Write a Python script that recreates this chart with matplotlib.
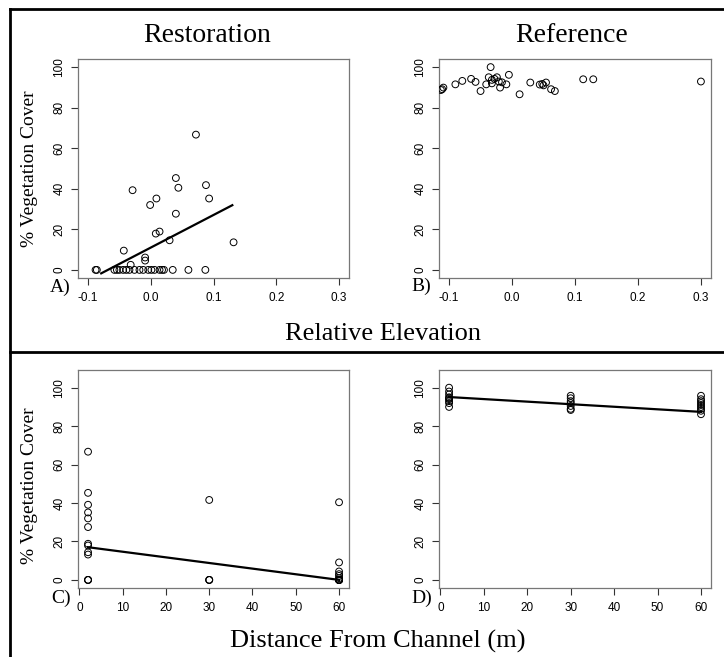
import matplotlib
matplotlib.use("Agg")
import matplotlib.pyplot as plt
import numpy as np
from matplotlib.lines import Line2D

# A) restoration: relative elevation vs % cover
rest_elev = [0.072, 0.040, 0.044, -0.029, 0.088, 0.093, 0.009, -0.001, 0.040,
             0.008, 0.014, 0.030, 0.132, -0.043, -0.009, -0.009, -0.032,
             -0.088, -0.086, -0.058, -0.054, -0.050, -0.044, -0.039, -0.034,
             -0.026, -0.018, -0.012, -0.004, 0.001, 0.006, 0.014, 0.018,
             0.021, 0.035, 0.060, 0.087]
rest_cover = [66.7, 45.3, 40.5, 39.3, 41.8, 35.2, 35.2, 32.0, 27.7,
              17.9, 18.9, 14.6, 13.6, 9.5, 6.1, 4.6, 2.5,
              0, 0, 0, 0, 0, 0, 0, 0,
              0, 0, 0, 0, 0, 0, 0, 0,
              0, 0, 0, 0]
fit_a = (11.0, 160.8, -0.079, 0.130)  # intercept, slope, x from, x to

# B) reference: relative elevation vs % cover
ref_elev = [-0.111, -0.109, -0.113, -0.090, -0.079, -0.065, -0.058, -0.050,
            -0.041, -0.037, -0.034, -0.032, -0.032, -0.028, -0.024, -0.021,
            -0.019, -0.016, -0.009, -0.005, 0.012, 0.029, 0.044, 0.048,
            0.050, 0.054, 0.062, 0.068, 0.113, 0.129, 0.300]
ref_cover = [89.1, 89.9, 88.7, 91.5, 93.2, 94.2, 92.7, 88.2,
             91.5, 95.0, 100.0, 93.7, 92.0, 94.2, 95.0, 92.9,
             89.9, 92.5, 91.5, 96.2, 86.6, 92.4, 91.4, 91.7,
             91.0, 92.4, 89.1, 88.2, 94.0, 94.0, 92.9]

# C) restoration: distance from channel vs % cover
rest_dist = [2, 2, 2, 2, 2, 2, 2, 2, 2, 2, 2, 2, 2,
             30, 30, 30, 30,
             60, 60, 60, 60, 60, 60, 60, 60, 60, 60, 60, 60, 60]
rest_dist_cover = [66.7, 45.3, 39.1, 35.1, 32.0, 27.5, 18.8, 17.9, 14.4, 13.2, 0, 0, 0,
                   41.6, 0, 0, 0,
                   40.4, 9.1, 4.4, 3.0, 2.1, 0.9, 0, 0, 0, 0, 0, 0, 0]
fit_c = (17.6, -0.293, 2, 60)

# D) reference: distance from channel vs % cover
ref_dist = [2, 2, 2, 2, 2, 2, 2, 2, 2,
            30, 30, 30, 30, 30, 30, 30,
            60, 60, 60, 60, 60, 60, 60, 60, 60]
ref_dist_cover = [100.0, 98.0, 96.5, 95.0, 94.5, 94.0, 93.0, 92.0, 90.0,
                  95.8, 94.5, 93.0, 92.0, 90.5, 89.0, 88.4,
                  95.8, 94.0, 93.0, 92.0, 91.0, 90.0, 89.0, 88.0, 86.2]
fit_d = (95.4, -0.133, 2, 60)

elev_ticks = [-0.1, 0.0, 0.1, 0.2, 0.3]
dist_ticks = [0, 10, 20, 30, 40, 50, 60]
cover_ticks = [0, 20, 40, 60, 80, 100]

serif = ["Liberation Serif", "DejaVu Serif"]
sans = ["Liberation Sans", "DejaVu Sans"]

W, H = 724, 657
fig = plt.figure(figsize=(W / 100, H / 100), dpi=100)


def px_axes(left, top, right, bottom):
    return fig.add_axes([left / W, 1 - bottom / H, (right - left) / W, (bottom - top) / H])


def style(ax, xticks, xlim, ylim, xfmt):
    ax.set_xlim(xlim)
    ax.set_ylim(ylim)
    ax.set_xticks(xticks)
    ax.set_xticklabels([xfmt(t) for t in xticks], family=sans, fontsize=8.5)
    ax.set_yticks(cover_ticks)
    ax.set_yticklabels([str(t) for t in cover_ticks], family=sans, fontsize=8.5,
                       rotation=90, va="center")
    ax.tick_params(length=5, width=0.8, color="#333333", pad=5)
    ax.tick_params(axis="y", pad=4)
    for s in ax.spines.values():
        s.set_color("#777777")
        s.set_linewidth(0.9)


def draw(ax, x, y, fit):
    ax.scatter(x, y, s=24, facecolors="none", edgecolors="black", linewidths=0.7, zorder=3)
    b0, b1, x0, x1 = fit
    xs = np.array([x0, x1])
    ax.plot(xs, b0 + b1 * xs, color="black", lw=1.6, zorder=4)


elev_fmt = lambda t: f"{t:.1f}"
dist_fmt = lambda t: str(t)

ax_a = px_axes(78, 59, 349, 278)
ax_b = px_axes(439, 59, 711, 278)
ax_c = px_axes(78, 370, 349, 588)
ax_d = px_axes(439, 370, 711, 588)

draw(ax_a, rest_elev, rest_cover, fit_a)
ax_b.scatter(ref_elev, ref_cover, s=24, facecolors="none", edgecolors="black",
             linewidths=0.7, zorder=3)
draw(ax_c, rest_dist, rest_dist_cover, fit_c)
draw(ax_d, ref_dist, ref_dist_cover, fit_d)

for ax in (ax_a, ax_b):
    style(ax, elev_ticks, (-0.116, 0.316), (-4, 104), elev_fmt)
for ax in (ax_c, ax_d):
    style(ax, dist_ticks, (-0.32, 62.3), (-4.2, 109.2), dist_fmt)

# frame lines
lw_frame = 2.0
fig.add_artist(Line2D([10 / W, 1], [1 - 9 / H, 1 - 9 / H], color="black", lw=lw_frame))
fig.add_artist(Line2D([10 / W, 10 / W], [0, 1 - 9 / H], color="black", lw=lw_frame))
fig.add_artist(Line2D([10 / W, 1], [1 - 352 / H, 1 - 352 / H], color="black", lw=lw_frame))

# titles and labels
fig.text(207 / W, 1 - 35 / H, "Restoration", family=serif, fontsize=20, ha="center", va="center")
fig.text(572 / W, 1 - 35 / H, "Reference", family=serif, fontsize=20, ha="center", va="center")
fig.text(383 / W, 1 - 334 / H, "Relative Elevation", family=serif, fontsize=19, ha="center", va="center")
fig.text(378 / W, 1 - 641 / H, "Distance From Channel (m)", family=serif, fontsize=19,
         ha="center", va="center")
fig.text(30 / W, 1 - 169 / H, "% Vegetation Cover", family=serif, fontsize=14,
         rotation=90, ha="center", va="center")
fig.text(30 / W, 1 - 486 / H, "% Vegetation Cover", family=serif, fontsize=14,
         rotation=90, ha="center", va="center")

for lab, x, y in [("A)", 60, 287), ("B)", 421, 286), ("C)", 61, 598), ("D)", 422, 598)]:
    fig.text(x / W, 1 - y / H, lab, family=serif, fontsize=14, ha="center", va="center")

fig.savefig("out.png", dpi=100)
